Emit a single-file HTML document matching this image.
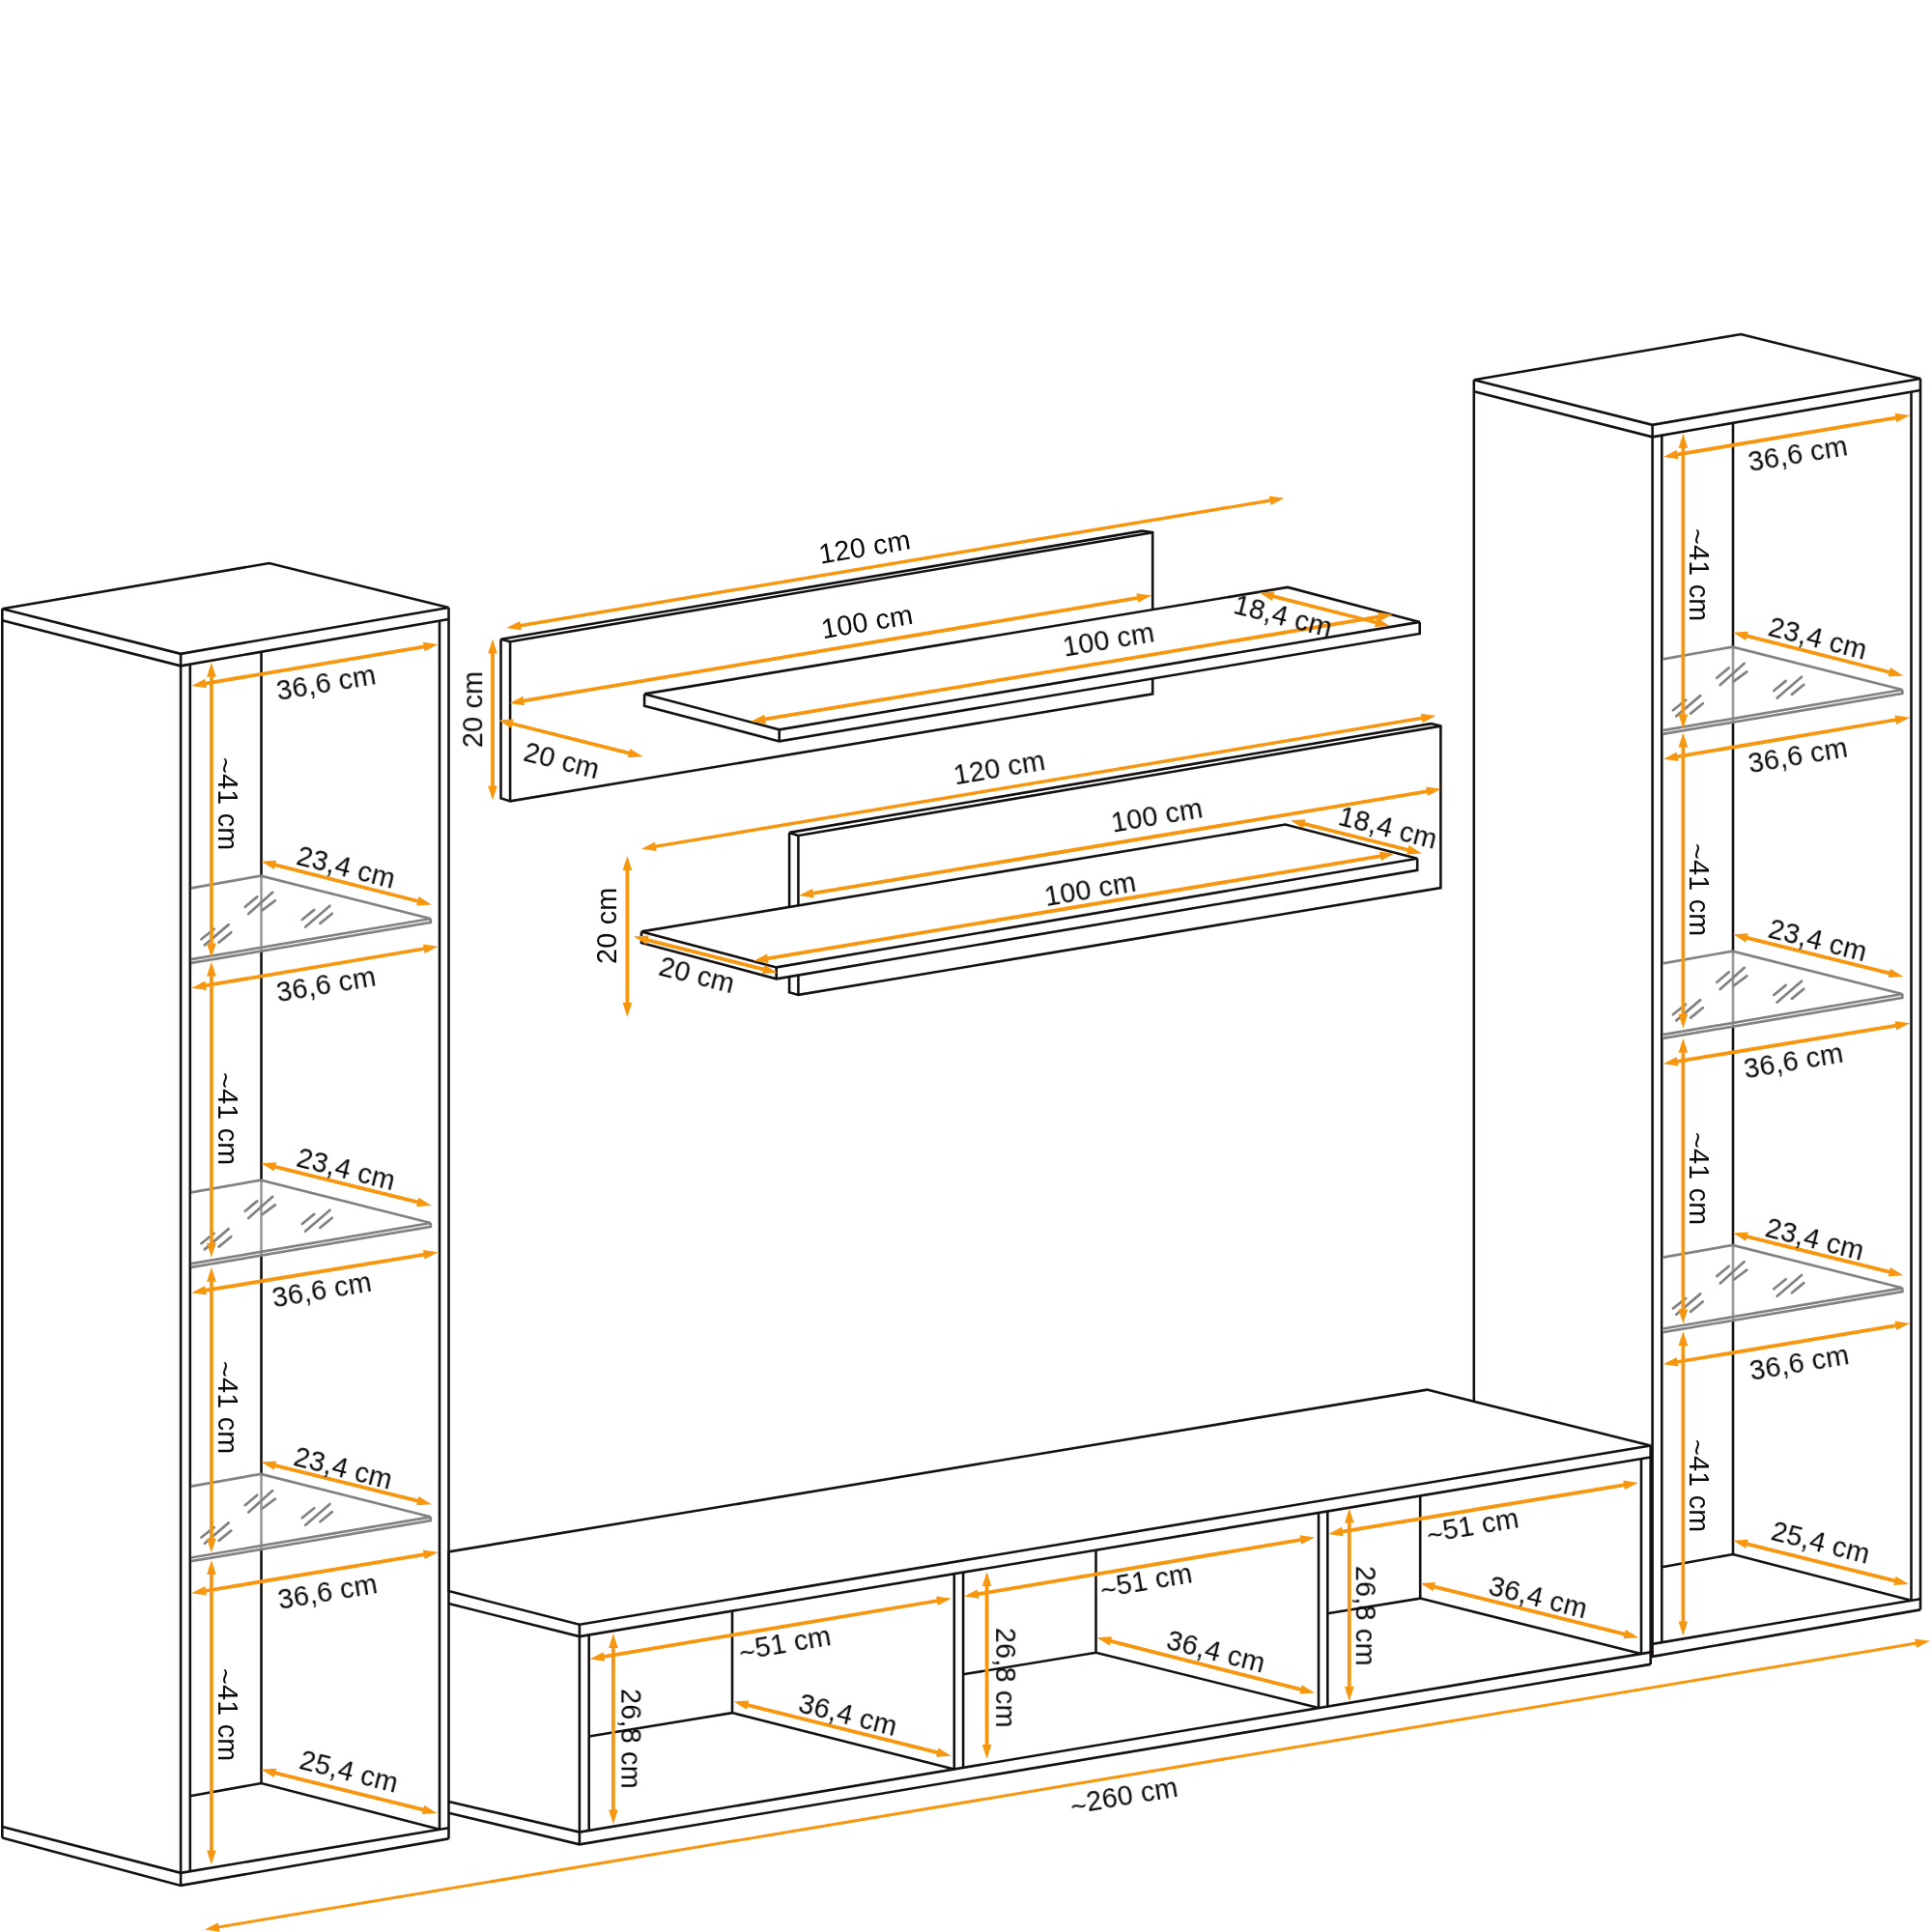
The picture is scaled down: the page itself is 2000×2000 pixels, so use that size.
<!DOCTYPE html>
<html><head><meta charset="utf-8"><title>Wohnwand</title>
<style>
html,body{margin:0;padding:0;background:#fff;}
body{width:2000px;height:2000px;overflow:hidden;}
svg{display:block;}
text{font-family:"Liberation Sans",sans-serif;font-size:28.8px;letter-spacing:0.2px;fill:#0a0a0a;}
</style></head><body>
<svg width="2000" height="2000" viewBox="0 0 2000 2000">
<rect width="2000" height="2000" fill="#fff"/>
<g stroke-linejoin="miter" stroke-linecap="butt">
<polyline points="1525.8,393.2 1802.2,346 1988,392 1710.6,439.8 1525.8,393.2" fill="none" stroke="#151112" stroke-width="2.6"/>
<polyline points="1525.8,405.3 1710.6,452.3 1988,404" fill="none" stroke="#151112" stroke-width="2.6"/>
<polyline points="1525.8,393.2 1525.8,1665.4" fill="none" stroke="#151112" stroke-width="2.6"/>
<polyline points="1710.6,439.8 1710.6,1714.9" fill="none" stroke="#151112" stroke-width="2.6"/>
<polyline points="1988,392 1988,1666.4" fill="none" stroke="#151112" stroke-width="2.6"/>
<polyline points="1720.3,450.6 1720.3,1700.2" fill="none" stroke="#151112" stroke-width="2.6"/>
<polyline points="1978.5,405.7 1978.5,1656.8" fill="none" stroke="#151112" stroke-width="2.6"/>
<polyline points="1794,437.8 1794,1609" fill="none" stroke="#151112" stroke-width="2.6"/>
<polyline points="1525.8,1654 1710.6,1701.8 1988,1655.2" fill="none" stroke="#151112" stroke-width="2.6"/>
<polyline points="1525.8,1665.4 1710.6,1714.9 1988,1666.4" fill="none" stroke="#151112" stroke-width="2.6"/>
<polyline points="1720.3,1622.2 1794,1609 1978.5,1656.8" fill="none" stroke="#151112" stroke-width="2.6"/>
<polygon points="1721.4,682.4 1793.5,669.6 1969.3,714 1969.3,717.8 1721.4,759.9" fill="#fff" fill-opacity="0.57" stroke="none"/>
<polyline points="1721.4,682.4 1793.5,669.6 1969.3,714 1721.4,756.2" fill="none" stroke="#828282" stroke-width="2.7"/>
<polyline points="1969.3,714 1969.3,717.8 1721.4,759.9" fill="none" stroke="#828282" stroke-width="2.7"/>
<polyline points="1731.9,735.2 1745.1,724.8" fill="none" stroke="#828282" stroke-width="2.7" stroke-linecap="round"/>
<polyline points="1735.3,741.4 1760.2,720.1" fill="none" stroke="#828282" stroke-width="2.7" stroke-linecap="round"/>
<polyline points="1750.1,738.6 1762.8,728.2" fill="none" stroke="#828282" stroke-width="2.7" stroke-linecap="round"/>
<polyline points="1777.3,701.8 1789.7,691.4" fill="none" stroke="#828282" stroke-width="2.7" stroke-linecap="round"/>
<polyline points="1780.7,709.1 1805.7,686.8" fill="none" stroke="#828282" stroke-width="2.7" stroke-linecap="round"/>
<polyline points="1795.1,705.2 1808.3,695.3" fill="none" stroke="#828282" stroke-width="2.7" stroke-linecap="round"/>
<polyline points="1836.3,715 1848.7,704.9" fill="none" stroke="#828282" stroke-width="2.7" stroke-linecap="round"/>
<polyline points="1839.7,722.5 1865,700.7" fill="none" stroke="#828282" stroke-width="2.7" stroke-linecap="round"/>
<polyline points="1854.9,718.9 1867.3,708.8" fill="none" stroke="#828282" stroke-width="2.7" stroke-linecap="round"/>
<polygon points="1721.4,997.4 1793.5,984.6 1969.3,1029 1969.3,1032.8 1721.4,1074.9" fill="#fff" fill-opacity="0.57" stroke="none"/>
<polyline points="1721.4,997.4 1793.5,984.6 1969.3,1029 1721.4,1071.2" fill="none" stroke="#828282" stroke-width="2.7"/>
<polyline points="1969.3,1029 1969.3,1032.8 1721.4,1074.9" fill="none" stroke="#828282" stroke-width="2.7"/>
<polyline points="1731.9,1050.2 1745.1,1039.8" fill="none" stroke="#828282" stroke-width="2.7" stroke-linecap="round"/>
<polyline points="1735.3,1056.4 1760.2,1035.1" fill="none" stroke="#828282" stroke-width="2.7" stroke-linecap="round"/>
<polyline points="1750.1,1053.6 1762.8,1043.2" fill="none" stroke="#828282" stroke-width="2.7" stroke-linecap="round"/>
<polyline points="1777.3,1016.8 1789.7,1006.4" fill="none" stroke="#828282" stroke-width="2.7" stroke-linecap="round"/>
<polyline points="1780.7,1024.1 1805.7,1001.8" fill="none" stroke="#828282" stroke-width="2.7" stroke-linecap="round"/>
<polyline points="1795.1,1020.2 1808.3,1010.3" fill="none" stroke="#828282" stroke-width="2.7" stroke-linecap="round"/>
<polyline points="1836.3,1030 1848.7,1019.9" fill="none" stroke="#828282" stroke-width="2.7" stroke-linecap="round"/>
<polyline points="1839.7,1037.5 1865,1015.7" fill="none" stroke="#828282" stroke-width="2.7" stroke-linecap="round"/>
<polyline points="1854.9,1033.9 1867.3,1023.8" fill="none" stroke="#828282" stroke-width="2.7" stroke-linecap="round"/>
<polygon points="1721.4,1301.7 1793.5,1288.9 1969.3,1333.3 1969.3,1337.1 1721.4,1379.2" fill="#fff" fill-opacity="0.57" stroke="none"/>
<polyline points="1721.4,1301.7 1793.5,1288.9 1969.3,1333.3 1721.4,1375.5" fill="none" stroke="#828282" stroke-width="2.7"/>
<polyline points="1969.3,1333.3 1969.3,1337.1 1721.4,1379.2" fill="none" stroke="#828282" stroke-width="2.7"/>
<polyline points="1731.9,1354.5 1745.1,1344.1" fill="none" stroke="#828282" stroke-width="2.7" stroke-linecap="round"/>
<polyline points="1735.3,1360.7 1760.2,1339.4" fill="none" stroke="#828282" stroke-width="2.7" stroke-linecap="round"/>
<polyline points="1750.1,1357.9 1762.8,1347.5" fill="none" stroke="#828282" stroke-width="2.7" stroke-linecap="round"/>
<polyline points="1777.3,1321.1 1789.7,1310.7" fill="none" stroke="#828282" stroke-width="2.7" stroke-linecap="round"/>
<polyline points="1780.7,1328.4 1805.7,1306.1" fill="none" stroke="#828282" stroke-width="2.7" stroke-linecap="round"/>
<polyline points="1795.1,1324.5 1808.3,1314.6" fill="none" stroke="#828282" stroke-width="2.7" stroke-linecap="round"/>
<polyline points="1836.3,1334.3 1848.7,1324.2" fill="none" stroke="#828282" stroke-width="2.7" stroke-linecap="round"/>
<polyline points="1839.7,1341.8 1865,1320" fill="none" stroke="#828282" stroke-width="2.7" stroke-linecap="round"/>
<polyline points="1854.9,1338.2 1867.3,1328.1" fill="none" stroke="#828282" stroke-width="2.7" stroke-linecap="round"/>
<polygon points="464.4,1606.4 1477.3,1438.6 1708.7,1496.5 1708.7,1722.9 599.9,1909.3 464.4,1876.7" fill="#fff" stroke="none"/>
<polyline points="464.4,1647.1 464.4,1606.4 1477.3,1438.6 1708.7,1496.5 599.9,1681.7 464.4,1647.1" fill="none" stroke="#151112" stroke-width="2.6"/>
<polyline points="464.4,1660 599.9,1694.1 1708.7,1508.5" fill="none" stroke="#151112" stroke-width="2.6"/>
<polyline points="599.9,1681.7 599.9,1909.3" fill="none" stroke="#151112" stroke-width="2.6"/>
<polyline points="1708.7,1496.5 1708.7,1722.9" fill="none" stroke="#151112" stroke-width="2.6"/>
<polyline points="464.4,1864.9 599.9,1896.6 1708.7,1710.4" fill="none" stroke="#151112" stroke-width="2.6"/>
<polyline points="464.4,1876.7 599.9,1909.3 1708.7,1722.9" fill="none" stroke="#151112" stroke-width="2.6"/>
<polyline points="609.7,1692.5 609.7,1895" fill="none" stroke="#151112" stroke-width="2.6"/>
<polyline points="1699,1510.1 1699,1712" fill="none" stroke="#151112" stroke-width="2.6"/>
<polyline points="987.8,1629.2 987.8,1831.5" fill="none" stroke="#151112" stroke-width="2.6"/>
<polyline points="997.1,1627.6 997.1,1829.9" fill="none" stroke="#151112" stroke-width="2.6"/>
<polyline points="1365,1566 1365,1768.1" fill="none" stroke="#151112" stroke-width="2.6"/>
<polyline points="1374.3,1564.5 1374.3,1766.6" fill="none" stroke="#151112" stroke-width="2.6"/>
<polyline points="758,1667.6 758,1773.1" fill="none" stroke="#151112" stroke-width="2.6"/>
<polyline points="609.7,1797.5 758,1773.1 987.8,1831.5" fill="none" stroke="#151112" stroke-width="2.6"/>
<polyline points="1134.5,1604.6 1134.5,1710.8" fill="none" stroke="#151112" stroke-width="2.6"/>
<polyline points="997.1,1733.3 1134.5,1710.8 1365,1768.1" fill="none" stroke="#151112" stroke-width="2.6"/>
<polyline points="1470.2,1548.4 1470.2,1654.6" fill="none" stroke="#151112" stroke-width="2.6"/>
<polyline points="1374.3,1670.2 1470.2,1654.6 1699,1712" fill="none" stroke="#151112" stroke-width="2.6"/>
<polyline points="2.3,630.2 278.7,583 464.5,629 187.1,676.8 2.3,630.2" fill="none" stroke="#151112" stroke-width="2.6"/>
<polyline points="2.3,642.3 187.1,689.3 464.5,641" fill="none" stroke="#151112" stroke-width="2.6"/>
<polyline points="2.3,630.2 2.3,1902.4" fill="none" stroke="#151112" stroke-width="2.6"/>
<polyline points="187.1,676.8 187.1,1951.9" fill="none" stroke="#151112" stroke-width="2.6"/>
<polyline points="464.5,629 464.5,1903.4" fill="none" stroke="#151112" stroke-width="2.6"/>
<polyline points="196.8,687.6 196.8,1937.2" fill="none" stroke="#151112" stroke-width="2.6"/>
<polyline points="455,642.7 455,1893.8" fill="none" stroke="#151112" stroke-width="2.6"/>
<polyline points="270.5,674.8 270.5,1846" fill="none" stroke="#151112" stroke-width="2.6"/>
<polyline points="2.3,1891 187.1,1938.8 464.5,1892.2" fill="none" stroke="#151112" stroke-width="2.6"/>
<polyline points="2.3,1902.4 187.1,1951.9 464.5,1903.4" fill="none" stroke="#151112" stroke-width="2.6"/>
<polyline points="196.8,1859.2 270.5,1846 455,1893.8" fill="none" stroke="#151112" stroke-width="2.6"/>
<polygon points="197.9,919.4 270,906.6 445.8,951 445.8,954.8 197.9,996.9" fill="#fff" fill-opacity="0.57" stroke="none"/>
<polyline points="197.9,919.4 270,906.6 445.8,951 197.9,993.2" fill="none" stroke="#828282" stroke-width="2.7"/>
<polyline points="445.8,951 445.8,954.8 197.9,996.9" fill="none" stroke="#828282" stroke-width="2.7"/>
<polyline points="208.4,972.2 221.6,961.8" fill="none" stroke="#828282" stroke-width="2.7" stroke-linecap="round"/>
<polyline points="211.8,978.4 236.7,957.1" fill="none" stroke="#828282" stroke-width="2.7" stroke-linecap="round"/>
<polyline points="226.6,975.6 239.3,965.2" fill="none" stroke="#828282" stroke-width="2.7" stroke-linecap="round"/>
<polyline points="253.8,938.8 266.2,928.4" fill="none" stroke="#828282" stroke-width="2.7" stroke-linecap="round"/>
<polyline points="257.2,946.1 282.2,923.8" fill="none" stroke="#828282" stroke-width="2.7" stroke-linecap="round"/>
<polyline points="271.6,942.2 284.8,932.3" fill="none" stroke="#828282" stroke-width="2.7" stroke-linecap="round"/>
<polyline points="312.8,952 325.2,941.9" fill="none" stroke="#828282" stroke-width="2.7" stroke-linecap="round"/>
<polyline points="316.2,959.5 341.5,937.7" fill="none" stroke="#828282" stroke-width="2.7" stroke-linecap="round"/>
<polyline points="331.4,955.9 343.8,945.8" fill="none" stroke="#828282" stroke-width="2.7" stroke-linecap="round"/>
<polygon points="197.9,1234.4 270,1221.6 445.8,1266 445.8,1269.8 197.9,1311.9" fill="#fff" fill-opacity="0.57" stroke="none"/>
<polyline points="197.9,1234.4 270,1221.6 445.8,1266 197.9,1308.2" fill="none" stroke="#828282" stroke-width="2.7"/>
<polyline points="445.8,1266 445.8,1269.8 197.9,1311.9" fill="none" stroke="#828282" stroke-width="2.7"/>
<polyline points="208.4,1287.2 221.6,1276.8" fill="none" stroke="#828282" stroke-width="2.7" stroke-linecap="round"/>
<polyline points="211.8,1293.4 236.7,1272.1" fill="none" stroke="#828282" stroke-width="2.7" stroke-linecap="round"/>
<polyline points="226.6,1290.6 239.3,1280.2" fill="none" stroke="#828282" stroke-width="2.7" stroke-linecap="round"/>
<polyline points="253.8,1253.8 266.2,1243.4" fill="none" stroke="#828282" stroke-width="2.7" stroke-linecap="round"/>
<polyline points="257.2,1261.1 282.2,1238.8" fill="none" stroke="#828282" stroke-width="2.7" stroke-linecap="round"/>
<polyline points="271.6,1257.2 284.8,1247.3" fill="none" stroke="#828282" stroke-width="2.7" stroke-linecap="round"/>
<polyline points="312.8,1267 325.2,1256.9" fill="none" stroke="#828282" stroke-width="2.7" stroke-linecap="round"/>
<polyline points="316.2,1274.5 341.5,1252.7" fill="none" stroke="#828282" stroke-width="2.7" stroke-linecap="round"/>
<polyline points="331.4,1270.9 343.8,1260.8" fill="none" stroke="#828282" stroke-width="2.7" stroke-linecap="round"/>
<polygon points="197.9,1538.7 270,1525.9 445.8,1570.3 445.8,1574.1 197.9,1616.2" fill="#fff" fill-opacity="0.57" stroke="none"/>
<polyline points="197.9,1538.7 270,1525.9 445.8,1570.3 197.9,1612.5" fill="none" stroke="#828282" stroke-width="2.7"/>
<polyline points="445.8,1570.3 445.8,1574.1 197.9,1616.2" fill="none" stroke="#828282" stroke-width="2.7"/>
<polyline points="208.4,1591.5 221.6,1581.1" fill="none" stroke="#828282" stroke-width="2.7" stroke-linecap="round"/>
<polyline points="211.8,1597.7 236.7,1576.4" fill="none" stroke="#828282" stroke-width="2.7" stroke-linecap="round"/>
<polyline points="226.6,1594.9 239.3,1584.5" fill="none" stroke="#828282" stroke-width="2.7" stroke-linecap="round"/>
<polyline points="253.8,1558.1 266.2,1547.7" fill="none" stroke="#828282" stroke-width="2.7" stroke-linecap="round"/>
<polyline points="257.2,1565.4 282.2,1543.1" fill="none" stroke="#828282" stroke-width="2.7" stroke-linecap="round"/>
<polyline points="271.6,1561.5 284.8,1551.6" fill="none" stroke="#828282" stroke-width="2.7" stroke-linecap="round"/>
<polyline points="312.8,1571.3 325.2,1561.2" fill="none" stroke="#828282" stroke-width="2.7" stroke-linecap="round"/>
<polyline points="316.2,1578.8 341.5,1557" fill="none" stroke="#828282" stroke-width="2.7" stroke-linecap="round"/>
<polyline points="331.4,1575.2 343.8,1565.1" fill="none" stroke="#828282" stroke-width="2.7" stroke-linecap="round"/>
<polyline points="528.1,664.3 518.5,661.7 1182.3,549.6 1193.2,551.2 1193.2,718.4 528.1,829.4 518.5,826.3 518.5,661.7" fill="none" stroke="#151112" stroke-width="2.6"/>
<polyline points="528.1,664.3 1193.2,551.2" fill="none" stroke="#151112" stroke-width="2.6"/>
<polyline points="528.1,664.3 528.1,829.4" fill="none" stroke="#151112" stroke-width="2.6"/>
<polygon points="667.1,718.4 1333,607.9 1469.7,643.9 1469.7,656 806.7,767.4 667.1,730.8" fill="#fff" stroke="none"/>
<polyline points="667.1,718.4 1333,607.9 1469.7,643.9 806.7,755.3 667.1,718.4" fill="none" stroke="#151112" stroke-width="2.6"/>
<polyline points="667.1,718.4 667.1,730.8 806.7,767.4 1469.7,656 1469.7,643.9" fill="none" stroke="#151112" stroke-width="2.6"/>
<polyline points="806.7,755.3 806.7,767.4" fill="none" stroke="#151112" stroke-width="2.6"/>
<polyline points="826.4,865 817.1,861.9 1481.5,749.1 1491.4,751.6 1491.4,919.1 826.4,1029.9 817.1,1027.3 817.1,861.9" fill="none" stroke="#151112" stroke-width="2.6"/>
<polyline points="826.4,865 1491.4,751.6" fill="none" stroke="#151112" stroke-width="2.6"/>
<polyline points="826.4,865 826.4,1029.9" fill="none" stroke="#151112" stroke-width="2.6"/>
<polygon points="664,964.4 1330.6,853.5 1467.2,888.8 1467.2,900.9 803.7,1013.3 664,976" fill="#fff" stroke="none"/>
<polyline points="664,964.4 1330.6,853.5 1467.2,888.8 803.7,1001.4 664,964.4" fill="none" stroke="#151112" stroke-width="2.6"/>
<polyline points="664,964.4 664,976 803.7,1013.3 1467.2,900.9 1467.2,888.8" fill="none" stroke="#151112" stroke-width="2.6"/>
<polyline points="803.7,1001.4 803.7,1013.3" fill="none" stroke="#151112" stroke-width="2.6"/>
</g>
<g fill="#F7960F" stroke="#F7960F" stroke-width="0" stroke-linecap="butt">
<polygon points="1721.8,473 1737.4,475.2 1735.8,465.8"/>
<polygon points="1977.1,430 1963.1,437.2 1961.5,427.8"/>
<line x1="1735.6" y1="470.7" x2="1963.3" y2="432.3" stroke-width="3.8"/>
<polygon points="1721.8,785.7 1737.4,787.9 1735.8,778.5"/>
<polygon points="1977.1,742.7 1963.1,749.9 1961.5,740.5"/>
<line x1="1735.6" y1="783.4" x2="1963.3" y2="745" stroke-width="3.8"/>
<polygon points="1721.8,1101.2 1737.4,1103.5 1735.8,1094"/>
<polygon points="1977.1,1059.3 1963.1,1066.5 1961.5,1057"/>
<line x1="1735.6" y1="1098.9" x2="1963.3" y2="1061.6" stroke-width="3.8"/>
<polygon points="1721.8,1412.3 1737.4,1414.6 1735.8,1405.1"/>
<polygon points="1977.1,1369.9 1963.1,1377.1 1961.5,1367.6"/>
<line x1="1735.6" y1="1410" x2="1963.3" y2="1372.2" stroke-width="3.8"/>
<polygon points="1742.4,448.8 1737.6,463.8 1747.2,463.8"/>
<polygon points="1742.4,754.6 1737.6,739.6 1747.2,739.6"/>
<line x1="1742.4" y1="462.8" x2="1742.4" y2="740.6" stroke-width="3.8"/>
<polygon points="1742.4,758.5 1737.6,773.5 1747.2,773.5"/>
<polygon points="1742.4,1064.7 1737.6,1049.7 1747.2,1049.7"/>
<line x1="1742.4" y1="772.5" x2="1742.4" y2="1050.7" stroke-width="3.8"/>
<polygon points="1742.4,1074.8 1737.6,1089.8 1747.2,1089.8"/>
<polygon points="1742.4,1370.6 1737.6,1355.6 1747.2,1355.6"/>
<line x1="1742.4" y1="1088.8" x2="1742.4" y2="1356.6" stroke-width="3.8"/>
<polygon points="1742.4,1378.1 1737.6,1393.1 1747.2,1393.1"/>
<polygon points="1742.4,1693.6 1737.6,1678.6 1747.2,1678.6"/>
<line x1="1742.4" y1="1392.1" x2="1742.4" y2="1679.6" stroke-width="3.8"/>
<polygon points="1794,654.7 1807.4,663 1809.7,653.7"/>
<polygon points="1970.3,699.4 1954.6,700.4 1956.9,691.1"/>
<line x1="1807.6" y1="658.1" x2="1956.7" y2="696" stroke-width="3.8"/>
<polygon points="1794,967.3 1807.4,975.6 1809.7,966.3"/>
<polygon points="1970.3,1011.1 1954.6,1012.1 1956.9,1002.8"/>
<line x1="1807.6" y1="970.7" x2="1956.7" y2="1007.7" stroke-width="3.8"/>
<polygon points="1794,1276.4 1807.4,1284.7 1809.7,1275.4"/>
<polygon points="1970.3,1320.3 1954.6,1321.3 1956.9,1312"/>
<line x1="1807.6" y1="1279.8" x2="1956.7" y2="1316.9" stroke-width="3.8"/>
<polygon points="1794,1594.7 1807.4,1603 1809.7,1593.7"/>
<polygon points="1976,1640 1960.3,1641 1962.6,1631.7"/>
<line x1="1807.6" y1="1598.1" x2="1962.4" y2="1636.6" stroke-width="3.8"/>
<polygon points="634.9,1691 630.1,1706 639.7,1706"/>
<polygon points="634.9,1888.5 630.1,1873.5 639.7,1873.5"/>
<line x1="634.9" y1="1705" x2="634.9" y2="1874.5" stroke-width="3.8"/>
<polygon points="1021.6,1627 1016.8,1642 1026.4,1642"/>
<polygon points="1021.6,1821 1016.8,1806 1026.4,1806"/>
<line x1="1021.6" y1="1641" x2="1021.6" y2="1807" stroke-width="3.8"/>
<polygon points="1396.8,1561.5 1392,1576.5 1401.6,1576.5"/>
<polygon points="1396.8,1761 1392,1746 1401.6,1746"/>
<line x1="1396.8" y1="1575.5" x2="1396.8" y2="1747" stroke-width="3.8"/>
<polygon points="610.5,1717.4 626.1,1719.7 624.5,1710.2"/>
<polygon points="984.8,1654.7 970.8,1661.9 969.2,1652.4"/>
<line x1="624.3" y1="1715.1" x2="971" y2="1657" stroke-width="3.8"/>
<polygon points="997.9,1652.6 1013.5,1654.8 1011.9,1645.4"/>
<polygon points="1361.1,1591.5 1347.1,1598.7 1345.5,1589.3"/>
<line x1="1011.7" y1="1650.3" x2="1347.3" y2="1593.8" stroke-width="3.8"/>
<polygon points="1375.1,1587.9 1390.7,1590.2 1389.1,1580.7"/>
<polygon points="1695.9,1534.9 1681.9,1542.1 1680.3,1532.6"/>
<line x1="1388.9" y1="1585.6" x2="1682.1" y2="1537.2" stroke-width="3.8"/>
<polygon points="759.6,1761.5 773,1769.8 775.3,1760.5"/>
<polygon points="984.8,1817.7 969.1,1818.7 971.4,1809.4"/>
<line x1="773.2" y1="1764.9" x2="971.2" y2="1814.3" stroke-width="3.8"/>
<polygon points="1135.3,1695.3 1148.7,1703.6 1151,1694.3"/>
<polygon points="1361.1,1752.5 1345.4,1753.5 1347.7,1744.2"/>
<line x1="1148.9" y1="1698.7" x2="1347.5" y2="1749.1" stroke-width="3.8"/>
<polygon points="1470.3,1638.9 1483.7,1647.2 1486,1637.9"/>
<polygon points="1696.2,1695.2 1680.5,1696.2 1682.8,1686.9"/>
<line x1="1483.9" y1="1642.3" x2="1682.6" y2="1691.8" stroke-width="3.8"/>
<polygon points="198.3,710 213.9,712.2 212.3,702.8"/>
<polygon points="453.6,667 439.6,674.2 438,664.8"/>
<line x1="212.1" y1="707.7" x2="439.8" y2="669.3" stroke-width="3.8"/>
<polygon points="198.3,1022.7 213.9,1024.9 212.3,1015.5"/>
<polygon points="453.6,979.7 439.6,986.9 438,977.5"/>
<line x1="212.1" y1="1020.4" x2="439.8" y2="982" stroke-width="3.8"/>
<polygon points="198.3,1338.2 213.9,1340.5 212.3,1331"/>
<polygon points="453.6,1296.3 439.6,1303.5 438,1294"/>
<line x1="212.1" y1="1335.9" x2="439.8" y2="1298.6" stroke-width="3.8"/>
<polygon points="198.3,1649.3 213.9,1651.6 212.3,1642.1"/>
<polygon points="453.6,1606.9 439.6,1614.1 438,1604.6"/>
<line x1="212.1" y1="1647" x2="439.8" y2="1609.2" stroke-width="3.8"/>
<polygon points="218.9,685.8 214.1,700.8 223.7,700.8"/>
<polygon points="218.9,991.6 214.1,976.6 223.7,976.6"/>
<line x1="218.9" y1="699.8" x2="218.9" y2="977.6" stroke-width="3.8"/>
<polygon points="218.9,995.5 214.1,1010.5 223.7,1010.5"/>
<polygon points="218.9,1301.7 214.1,1286.7 223.7,1286.7"/>
<line x1="218.9" y1="1009.5" x2="218.9" y2="1287.7" stroke-width="3.8"/>
<polygon points="218.9,1311.8 214.1,1326.8 223.7,1326.8"/>
<polygon points="218.9,1607.6 214.1,1592.6 223.7,1592.6"/>
<line x1="218.9" y1="1325.8" x2="218.9" y2="1593.6" stroke-width="3.8"/>
<polygon points="218.9,1615.1 214.1,1630.1 223.7,1630.1"/>
<polygon points="218.9,1930.6 214.1,1915.6 223.7,1915.6"/>
<line x1="218.9" y1="1629.1" x2="218.9" y2="1916.6" stroke-width="3.8"/>
<polygon points="270.5,891.7 283.9,900 286.2,890.7"/>
<polygon points="446.8,936.4 431.1,937.4 433.4,928.1"/>
<line x1="284.1" y1="895.1" x2="433.2" y2="933" stroke-width="3.8"/>
<polygon points="270.5,1204.3 283.9,1212.6 286.2,1203.3"/>
<polygon points="446.8,1248.1 431.1,1249.1 433.4,1239.8"/>
<line x1="284.1" y1="1207.7" x2="433.2" y2="1244.7" stroke-width="3.8"/>
<polygon points="270.5,1513.4 283.9,1521.7 286.2,1512.4"/>
<polygon points="446.8,1557.3 431.1,1558.3 433.4,1549"/>
<line x1="284.1" y1="1516.8" x2="433.2" y2="1553.9" stroke-width="3.8"/>
<polygon points="270.5,1831.7 283.9,1840 286.2,1830.7"/>
<polygon points="452.5,1877 436.8,1878 439.1,1868.7"/>
<line x1="284.1" y1="1835.1" x2="438.9" y2="1873.6" stroke-width="3.8"/>
<polygon points="524.3,650.1 539.9,652.4 538.3,642.9"/>
<polygon points="1329.5,515.7 1315.5,522.9 1313.9,513.4"/>
<line x1="538.1" y1="647.8" x2="1315.7" y2="518" stroke-width="3.4"/>
<polygon points="527.4,728 543,730.3 541.4,720.8"/>
<polygon points="1192.1,616.6 1178.1,623.8 1176.5,614.3"/>
<line x1="541.2" y1="725.7" x2="1178.3" y2="618.9" stroke-width="3.8"/>
<polygon points="777.2,747 792.8,749.3 791.2,739.8"/>
<polygon points="1441.8,636.1 1427.8,643.3 1426.2,633.8"/>
<line x1="791" y1="744.7" x2="1428" y2="638.4" stroke-width="3.8"/>
<polygon points="1303.6,613.6 1317,622 1319.3,612.6"/>
<polygon points="1438.7,648 1423,649 1425.3,639.6"/>
<line x1="1317.2" y1="617.1" x2="1425.1" y2="644.5" stroke-width="3.8"/>
<polygon points="510,661.6 505.2,676.6 514.8,676.6"/>
<polygon points="510,828.6 505.2,813.6 514.8,813.6"/>
<line x1="510" y1="675.6" x2="510" y2="814.6" stroke-width="3.8"/>
<polygon points="516,745.6 529.4,753.9 531.7,744.6"/>
<polygon points="665.6,783.3 649.9,784.3 652.2,775"/>
<line x1="529.6" y1="749" x2="652" y2="779.9" stroke-width="3.8"/>
<polygon points="664,878.7 679.6,881 678,871.5"/>
<polygon points="1486.5,741 1472.5,748.2 1470.9,738.7"/>
<line x1="677.8" y1="876.4" x2="1472.7" y2="743.3" stroke-width="3.4"/>
<polygon points="827,927.1 842.6,929.4 841,919.9"/>
<polygon points="1491.8,816.8 1477.8,824 1476.2,814.5"/>
<line x1="840.8" y1="924.8" x2="1478" y2="819.1" stroke-width="3.8"/>
<polygon points="780.1,994.7 795.7,997 794.1,987.5"/>
<polygon points="1443.6,883.8 1429.6,891 1428,881.5"/>
<line x1="793.9" y1="992.4" x2="1429.8" y2="886.1" stroke-width="3.8"/>
<polygon points="1335.7,849.2 1349.1,857.5 1351.4,848.2"/>
<polygon points="1471.9,883.4 1456.2,884.4 1458.5,875.1"/>
<line x1="1349.3" y1="852.6" x2="1458.3" y2="880" stroke-width="3.8"/>
<polygon points="649.4,886 644.6,901 654.2,901"/>
<polygon points="649.4,1052.9 644.6,1037.9 654.2,1037.9"/>
<line x1="649.4" y1="900" x2="649.4" y2="1038.9" stroke-width="3.8"/>
<polygon points="655.9,969.4 669.3,977.7 671.6,968.4"/>
<polygon points="804.7,1007.1 789,1008.1 791.3,998.8"/>
<line x1="669.5" y1="972.8" x2="791.1" y2="1003.7" stroke-width="3.8"/>
<polygon points="211.8,1997.4 227.4,1999.7 225.8,1990.2"/>
<polygon points="1997.8,1698.8 1983.8,1706 1982.2,1696.5"/>
<line x1="225.6" y1="1995.1" x2="1984" y2="1701.1" stroke-width="3"/>
</g>
<g opacity="0.999">
<text transform="translate(1811.5 488.2) rotate(-9.6)">36,6 cm</text>
<text transform="translate(1811.5 800.4) rotate(-9.6)">36,6 cm</text>
<text transform="translate(1807 1116.6) rotate(-9.6)">36,6 cm</text>
<text transform="translate(1813 1429.1) rotate(-9.6)">36,6 cm</text>
<text transform="translate(1829 657.5) rotate(14.2)">23,4 cm</text>
<text transform="translate(1829 970) rotate(14.2)">23,4 cm</text>
<text transform="translate(1826 1279.5) rotate(14.2)">23,4 cm</text>
<text transform="translate(1832 1593.5) rotate(14.2)">25,4 cm</text>
<text transform="translate(1749.3 547) rotate(90)"><tspan dy="2.6">~</tspan><tspan dy="-2.6">41 cm</tspan></text>
<text transform="translate(1749.3 873) rotate(90)"><tspan dy="2.6">~</tspan><tspan dy="-2.6">41 cm</tspan></text>
<text transform="translate(1749.3 1172) rotate(90)"><tspan dy="2.6">~</tspan><tspan dy="-2.6">41 cm</tspan></text>
<text transform="translate(1749.3 1490) rotate(90)"><tspan dy="2.6">~</tspan><tspan dy="-2.6">41 cm</tspan></text>
<text transform="translate(643.4 1748) rotate(90)">26,8 cm</text>
<text transform="translate(1031.2 1684.8) rotate(90)">26,8 cm</text>
<text transform="translate(1403.8 1620.8) rotate(90)">26,8 cm</text>
<text transform="translate(766.5 1718.8) rotate(-9.6)"><tspan dy="2.6">~</tspan><tspan dy="-2.6">51 cm</tspan></text>
<text transform="translate(1140.5 1654) rotate(-9.6)"><tspan dy="2.6">~</tspan><tspan dy="-2.6">51 cm</tspan></text>
<text transform="translate(1478.5 1597) rotate(-9.6)"><tspan dy="2.6">~</tspan><tspan dy="-2.6">51 cm</tspan></text>
<text transform="translate(825 1772) rotate(14.1)">36,4 cm</text>
<text transform="translate(1206 1706.5) rotate(14.1)">36,4 cm</text>
<text transform="translate(1539.5 1650.3) rotate(14.1)">36,4 cm</text>
<text transform="translate(288 725.2) rotate(-9.6)">36,6 cm</text>
<text transform="translate(288 1037.4) rotate(-9.6)">36,6 cm</text>
<text transform="translate(283.5 1353.6) rotate(-9.6)">36,6 cm</text>
<text transform="translate(289.5 1666.1) rotate(-9.6)">36,6 cm</text>
<text transform="translate(305.5 894.5) rotate(14.2)">23,4 cm</text>
<text transform="translate(305.5 1207) rotate(14.2)">23,4 cm</text>
<text transform="translate(302.5 1516.5) rotate(14.2)">23,4 cm</text>
<text transform="translate(308.5 1830.5) rotate(14.2)">25,4 cm</text>
<text transform="translate(225.8 784) rotate(90)"><tspan dy="2.6">~</tspan><tspan dy="-2.6">41 cm</tspan></text>
<text transform="translate(225.8 1110) rotate(90)"><tspan dy="2.6">~</tspan><tspan dy="-2.6">41 cm</tspan></text>
<text transform="translate(225.8 1409) rotate(90)"><tspan dy="2.6">~</tspan><tspan dy="-2.6">41 cm</tspan></text>
<text transform="translate(225.8 1727) rotate(90)"><tspan dy="2.6">~</tspan><tspan dy="-2.6">41 cm</tspan></text>
<text transform="translate(849.5 583.8) rotate(-9.5)">120 cm</text>
<text transform="translate(852 661.2) rotate(-9.5)">100 cm</text>
<text transform="translate(1102 679.7) rotate(-9.5)">100 cm</text>
<text transform="translate(1275.5 634.5) rotate(14.2)">18,4 cm</text>
<text transform="translate(499.2 774.2) rotate(-90)">20 cm</text>
<text transform="translate(540.5 787) rotate(14.2)">20 cm</text>
<text transform="translate(988.9 812.4) rotate(-9.5)">120 cm</text>
<text transform="translate(1152 861.7) rotate(-9.5)">100 cm</text>
<text transform="translate(1083 938.1) rotate(-9.5)">100 cm</text>
<text transform="translate(1384 853.5) rotate(14.2)">18,4 cm</text>
<text transform="translate(638 998) rotate(-90)">20 cm</text>
<text transform="translate(680.5 1009) rotate(14.2)">20 cm</text>
<text transform="translate(1109.5 1878) rotate(-9.5)"><tspan dy="2.6">~</tspan><tspan dy="-2.6">260 cm</tspan></text>
</g>
</svg>
</body></html>
